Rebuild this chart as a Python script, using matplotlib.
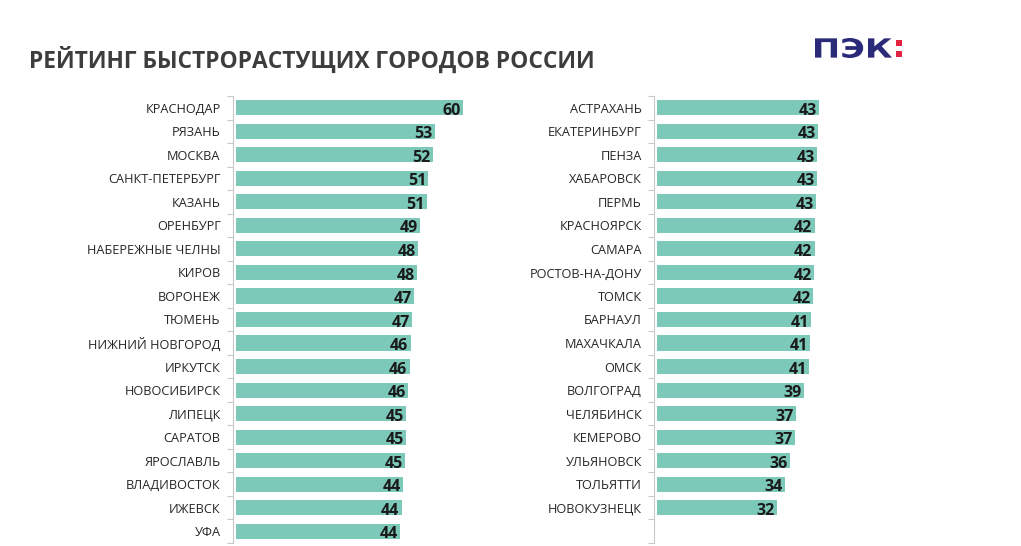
import matplotlib.pyplot as plt
import numpy as np
from matplotlib.textpath import TextPath
from matplotlib.patches import PathPatch
from matplotlib.font_manager import FontProperties
from matplotlib.transforms import Affine2D

plt.rcParams['font.family'] = ['Open Sans', 'DejaVu Sans']

# left column
left_cities = ['КРАСНОДАР', 'РЯЗАНЬ', 'МОСКВА', 'САНКТ-ПЕТЕРБУРГ', 'КАЗАНЬ', 'ОРЕНБУРГ',
               'НАБЕРЕЖНЫЕ ЧЕЛНЫ', 'КИРОВ', 'ВОРОНЕЖ', 'ТЮМЕНЬ', 'НИЖНИЙ НОВГОРОД',
               'ИРКУТСК', 'НОВОСИБИРСК', 'ЛИПЕЦК', 'САРАТОВ', 'ЯРОСЛАВЛЬ',
               'ВЛАДИВОСТОК', 'ИЖЕВСК', 'УФА']
left_vals = [60.0, 52.6, 52.0, 50.9, 50.6, 48.6, 48.1, 47.8, 47.2, 46.5,
             46.2, 45.9, 45.6, 45.1, 45.0, 44.8, 44.3, 43.8, 43.5]
left_labels = [60, 53, 52, 51, 51, 49, 48, 48, 47, 47, 46, 46, 46, 45, 45, 45, 44, 44, 44]

# right column
right_cities = ['АСТРАХАНЬ', 'ЕКАТЕРИНБУРГ', 'ПЕНЗА', 'ХАБАРОВСК', 'ПЕРМЬ', 'КРАСНОЯРСК',
                'САМАРА', 'РОСТОВ-НА-ДОНУ', 'ТОМСК', 'БАРНАУЛ', 'МАХАЧКАЛА', 'ОМСК',
                'ВОЛГОГРАД', 'ЧЕЛЯБИНСК', 'КЕМЕРОВО', 'УЛЬЯНОВСК', 'ТОЛЬЯТТИ', 'НОВОКУЗНЕЦК']
right_vals = [43.5, 43.3, 43.0, 43.0, 42.8, 42.4, 42.4, 42.2, 42.0, 41.4,
              41.1, 40.9, 39.4, 37.3, 37.0, 35.8, 34.3, 32.2]
right_labels = [43, 43, 43, 43, 43, 42, 42, 42, 42, 41, 41, 41, 39, 37, 37, 36, 34, 32]

bar_color = '#7cc8b9'
W, H = 1021, 546
fig = plt.figure(figsize=(W / 100, H / 100), dpi=100)
fig.patch.set_facecolor('white')

n_rows = 19


def draw_panel(ax, cities, vals, labels, xmax):
    y = np.arange(len(cities))
    ax.barh(y, vals, height=0.64, color=bar_color)
    ax.set_ylim(n_rows - 0.5, -0.5)
    ax.set_xlim(0, xmax)
    for s in ['top', 'right', 'bottom']:
        ax.spines[s].set_visible(False)
    ax.spines['left'].set_color('#c8c8c8')
    ax.spines['left'].set_linewidth(0.8)
    ax.spines['left'].set_position(('outward', 2))
    ax.set_xticks([])
    ax.set_yticks(y)
    ax.set_yticklabels(cities, fontsize=9.2, color='#262626')
    ax.tick_params(axis='y', which='major', length=0, pad=9)
    ax.set_yticks(np.arange(-0.5, n_rows, 1), minor=True)
    ax.tick_params(axis='y', which='minor', length=4, color='#c8c8c8', width=0.8)
    for i, (v, lbl) in enumerate(zip(vals, labels)):
        ax.text(v - 0.6, i + 0.13, str(lbl), ha='right', va='center',
                fontsize=11.5, fontweight='bold', color='#1a1a1a')


ax_bottom = 1 - 543 / H
ax_height = 447 / H
ax1 = fig.add_axes([236 / W, ax_bottom, 244 / W, ax_height])
draw_panel(ax1, left_cities, left_vals, left_labels, 244 / 3.78)
ax2 = fig.add_axes([657 / W, ax_bottom, 183 / W, ax_height])
draw_panel(ax2, right_cities, right_vals, right_labels, 183 / 3.72)

fig.text(29 / W, 1 - 60 / H, 'РЕЙТИНГ БЫСТРОРАСТУЩИХ ГОРОДОВ РОССИИ',
         fontsize=16.4, fontweight='bold', color='#3d3d3d', va='center', ha='left')

# logo, stretched to fit its box (pixel coords)
logo_ax = fig.add_axes([0, 0, 1, 1], zorder=5)
logo_ax.set_xlim(0, W)
logo_ax.set_ylim(H, 0)
logo_ax.axis('off')
fp = FontProperties(family='DejaVu Sans', weight='bold')


def place_text(s, x0, x1, y0, y1, color):
    tp = TextPath((0, 0), s, size=10, prop=fp)
    ext = tp.get_extents()
    tr = (Affine2D().translate(-ext.x0, -ext.y0)
          .scale((x1 - x0) / ext.width, -(y1 - y0) / ext.height)
          .translate(x0, y1))
    logo_ax.add_patch(PathPatch(tr.transform_path(tp), color=color, lw=0))


place_text('ПЭК', 815, 892, 38, 58, '#2b2a78')
place_text(':', 896, 902, 40, 57, '#e2233f')

fig.savefig('out.png', dpi=100)
